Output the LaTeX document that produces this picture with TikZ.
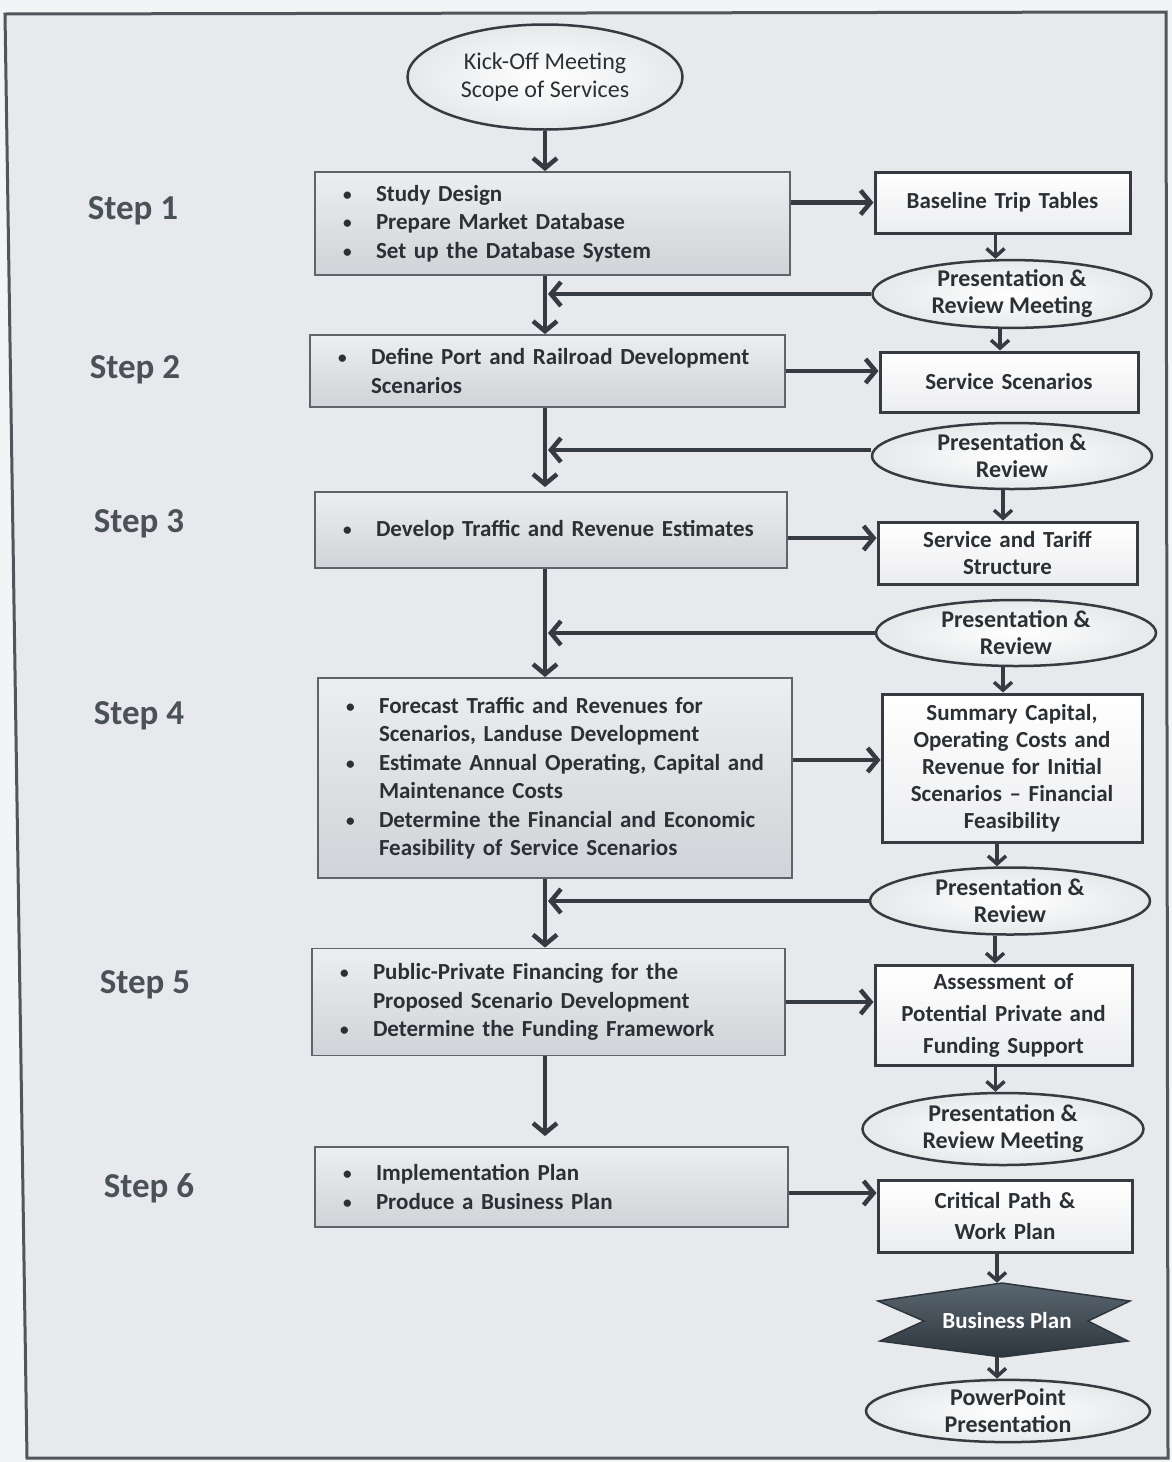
\documentclass[tikz,border=0pt]{standalone}
\usepackage{fontspec}
\setmainfont{Carlito}
\usetikzlibrary{shapes.geometric,arrows.meta,calc}
\definecolor{pagebg}{HTML}{F3F4F5}
\definecolor{framebg}{HTML}{E7E9EC}
\definecolor{framec}{HTML}{50565B}
\definecolor{ink}{HTML}{2C3034}
\definecolor{arrc}{HTML}{353B40}
\definecolor{boxtop}{HTML}{ECEEF0}
\definecolor{boxbot}{HTML}{D0D3D7}
\definecolor{boxline}{HTML}{5E6469}
\definecolor{steptxt}{HTML}{4A5157}
\definecolor{bptop}{HTML}{5A6670}
\definecolor{bpbot}{HTML}{2E363D}
\definecolor{ellout}{HTML}{E6E8EA}
\definecolor{outbot}{HTML}{ECEDEF}
\newcommand{\bul}{\makebox[33pt][l]{\raisebox{1pt}{\scalebox{0.75}{\textbullet}}}}
\newcommand{\hng}{\hspace*{33pt}}
\begin{document}
\begin{tikzpicture}[x=1pt,y=-1pt,
  stepbox/.style={draw=boxline, line width=1.8pt, top color=boxtop, bottom color=boxbot,
    inner xsep=28pt, inner ysep=0pt, align=left, text=ink,
    font=\fontsize{23}{28.5}\selectfont\bfseries},
  outbox/.style={draw=arrc, line width=3pt, top color=white, bottom color=outbot,
    inner xsep=6pt, inner ysep=0pt, align=center, text=ink,
    font=\fontsize{23}{27}\selectfont\bfseries},
  meet/.style={ellipse, draw=arrc, line width=2.5pt, inner color=white, outer color=ellout,
    inner sep=0pt, align=center, text=ink, font=\fontsize{24}{27}\selectfont\bfseries},
  steplabel/.style={text=steptxt, font=\fontsize{35}{35}\selectfont\bfseries, inner sep=0pt},
  arr/.style={draw=arrc, line width=4.5pt, -{Straight Barb[length=10pt,width=24pt]}},
  arrs/.style={draw=arrc, line width=3.5pt, -{Straight Barb[length=8pt,width=18pt]}}
]
\useasboundingbox (0,0) rectangle (1172,1462);
\fill[pagebg] (0,0) rectangle (1172,1462);
\filldraw[fill=framebg, draw=framec, line width=3pt] (5,14) -- (1166,12) -- (1168,1458) -- (27,1458) -- cycle;

\coordinate (sp) at (545,0);

% step labels
\node[steplabel] (l1) at (133,211) {Step 1};
\node[steplabel] (l2) at (135,370) {Step 2};
\node[steplabel] (l3) at (139,524) {Step 3};
\node[steplabel] (l4) at (139,716) {Step 4};
\node[steplabel] (l5) at (145,985) {Step 5};
\node[steplabel] (l6) at (149,1188) {Step 6};

% kick-off
\node[meet, minimum width=275pt, minimum height=105pt,
  font=\fontsize{24}{28}\selectfont] (ko) at (545,77) {Kick-Off Meeting\\Scope of Services};

% left step boxes
\node[stepbox, text width=419pt, minimum height=103pt] (s1) at (552.5,223.5)
  {\bul Study Design\\ \bul Prepare Market Database\\ \bul Set up the Database System};
\node[stepbox, text width=419pt, minimum height=72pt] (s2) at (547.5,371)
  {\bul Define Port and Railroad Development\\ \hng Scenarios};
\node[stepbox, text width=416pt, minimum height=76pt] (s3) at (551,530)
  {\bul Develop Traffic and Revenue Estimates};
\node[stepbox, text width=418pt, minimum height=200pt] (s4) at (555,778)
  {\bul Forecast Traffic and Revenues for\\ \hng Scenarios, Landuse Development\\
   \bul Estimate Annual Operating, Capital and\\ \hng Maintenance Costs\\
   \bul Determine the Financial and Economic\\ \hng Feasibility of Service Scenarios};
\node[stepbox, text width=417pt, minimum height=107pt] (s5) at (548.5,1002)
  {\bul Public-Private Financing for the\\ \hng Proposed Scenario Development\\
   \bul Determine the Funding Framework};
\node[stepbox, text width=417pt, minimum height=80pt] (s6) at (551.5,1187)
  {\bul Implementation Plan\\ \bul Produce a Business Plan};

% right output boxes
\node[outbox, text width=243pt, minimum height=61pt] (bt) at (1002.5,202.5) {Baseline Trip Tables};
\node[outbox, text width=246pt, minimum height=60pt] (ss) at (1009,382) {Service Scenarios};
\node[outbox, text width=247pt, minimum height=62pt] (st) at (1007.5,553) {Service and Tariff\\Structure};
\node[outbox, text width=248pt, minimum height=148pt] (sc) at (1012,768)
  {Summary Capital,\\Operating Costs and\\Revenue for Initial\\Scenarios – Financial\\Feasibility};
\node[outbox, text width=245pt, minimum height=100pt, font=\fontsize{23}{32}\selectfont\bfseries] (ap) at (1003.5,1015)
  {Assessment of\\Potential Private and\\Funding Support};
\node[outbox, text width=242pt, minimum height=72pt, font=\fontsize{23}{31}\selectfont\bfseries] (cp) at (1005,1216)
  {Critical Path \&\\Work Plan};

% meeting ellipses
\node[meet, minimum width=279pt, minimum height=64pt] (pr1) at (1012,294) {Presentation \&\\Review Meeting};
\node[meet, minimum width=280pt, minimum height=66pt] (pr2) at (1012,456) {Presentation \&\\Review};
\node[meet, minimum width=280pt, minimum height=66pt] (pr3) at (1016,633) {Presentation \&\\Review};
\node[meet, minimum width=280pt, minimum height=67pt] (pr4) at (1010,901) {Presentation \&\\Review};
\node[meet, minimum width=281pt, minimum height=72pt] (pr5) at (1003,1129) {Presentation \&\\Review Meeting};
\node[meet, minimum width=284pt, minimum height=62pt] (pp) at (1008,1411) {PowerPoint\\Presentation};

% business plan star
\shade[top color=bptop, bottom color=bpbot] (1002,1283) -- (1130,1301) -- (1088,1321) -- (1128,1341) -- (1002,1357) -- (880,1341) -- (924,1321) -- (878,1301) -- cycle;
\draw[draw=bpbot, line width=1.5pt, line join=miter] (1002,1283) -- (1130,1301) -- (1088,1321) -- (1128,1341) -- (1002,1357) -- (880,1341) -- (924,1321) -- (878,1301) -- cycle;
\node[minimum width=252pt, minimum height=74pt, inner sep=0pt, text=white,
  font=\fontsize{23}{26}\selectfont\bfseries] (bp) at (1007,1320) {Business Plan};

% spine arrows
\draw[arr] (ko.south) -- (s1.north -| sp);
\draw[arr] (s1.south -| sp) -- (s2.north -| sp);
\draw[arr] (s2.south -| sp) -- ([yshift=4pt]s3.north -| sp);
\draw[arr] (s3.south -| sp) -- (s4.north -| sp);
\draw[arr] (s4.south -| sp) -- (s5.north -| sp);
\draw[arr] (s5.south -| sp) -- ([yshift=10pt]s6.north -| sp);

% feedback from meetings into the spine
\draw[arr] (pr1.west) -- ([xshift=3pt]pr1.west -| sp);
\draw[arr] ([yshift=6pt]pr2.west) -- ([xshift=3pt,yshift=6pt]pr2.west -| sp);
\draw[arr] (pr3.west) -- ([xshift=3pt]pr3.west -| sp);
\draw[arr] (pr4.west) -- ([xshift=3pt]pr4.west -| sp);

% step boxes to outputs
\draw[arr] (s1.east |- bt.west) -- (bt.west);
\draw[arr] (s2.east) -- (s2.east -| ss.west);
\draw[arr] ([yshift=-8pt]s3.east) -- ([yshift=-8pt]s3.east -| st.west);
\draw[arr] ([yshift=8pt]sc.west -| s4.east) -- ([yshift=8pt]sc.west);
\draw[arr] (s5.east) -- (s5.east -| ap.west);
\draw[arr] ([yshift=-6pt]s6.east) -- ([yshift=-6pt]s6.east -| cp.west);

% right column chain
\draw[arrs] ([xshift=-7pt]bt.south) -- ([xshift=-7pt]bt.south |- pr1.north);
\draw[arrs] ([xshift=-12pt]pr1.south) -- ([xshift=-12pt]pr1.south |- ss.north);
\draw[arrs] ([xshift=-9pt]pr2.south) -- ([xshift=-9pt]pr2.south |- st.north);
\draw[arrs] ([xshift=-13pt]pr3.south) -- ([xshift=-13pt]pr3.south |- sc.north);
\draw[arrs] ([xshift=-15pt]sc.south) -- ([xshift=-15pt]sc.south |- pr4.north);
\draw[arrs] ([xshift=-15pt]pr4.south) -- ([xshift=-15pt]pr4.south |- ap.north);
\draw[arrs] ([xshift=-8pt]ap.south) -- ([xshift=-8pt]ap.south |- pr5.north);
\draw[arrs] ([xshift=-8pt]cp.south) -- ([xshift=-8pt]cp.south |- bp.north);
\draw[arrs] ([xshift=-10pt]bp.south) -- ([xshift=-10pt]bp.south |- pp.north);
\end{tikzpicture}
\end{document}
